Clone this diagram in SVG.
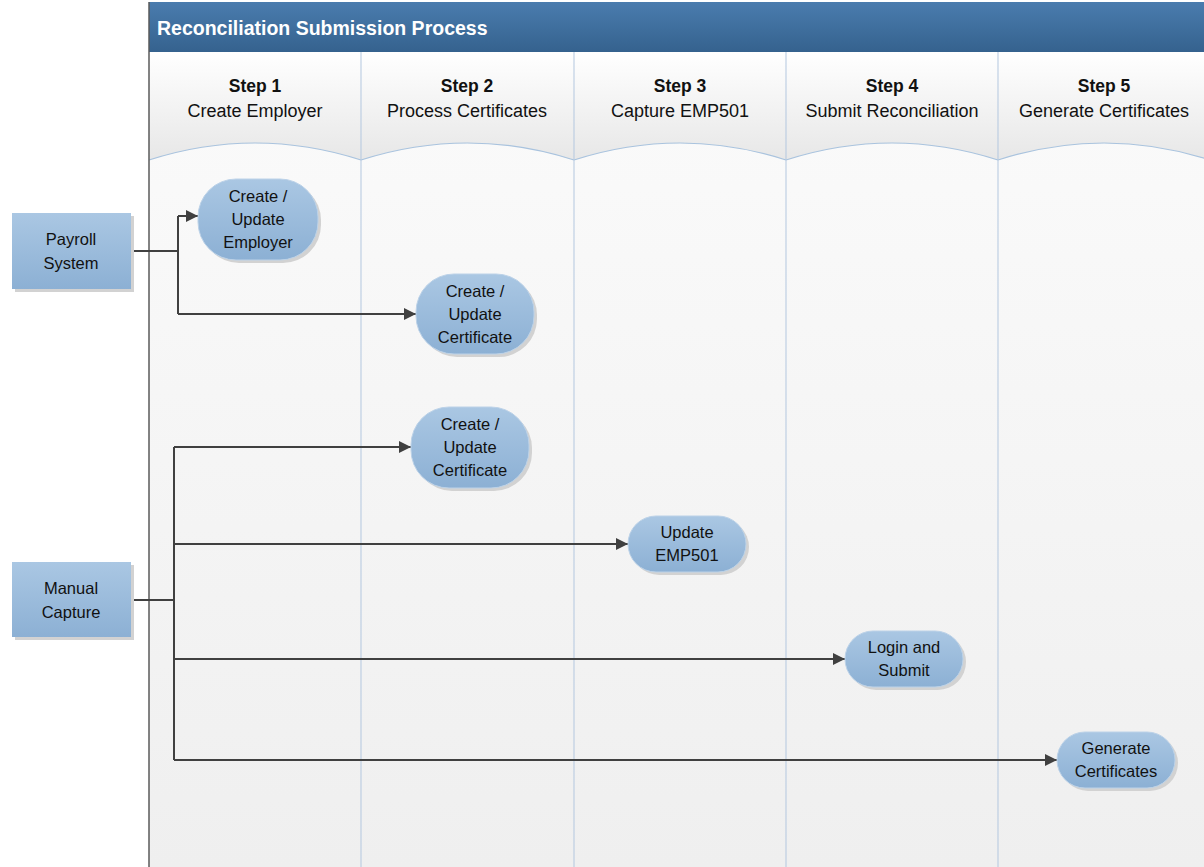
<svg xmlns="http://www.w3.org/2000/svg" width="1204" height="867" viewBox="0 0 1204 867">
<defs>
<linearGradient id="title" x1="0" y1="0" x2="0" y2="1"><stop offset="0" stop-color="#4a7cae"/><stop offset="1" stop-color="#35628e"/></linearGradient>
<linearGradient id="lane" x1="0" y1="0" x2="0" y2="1"><stop offset="0" stop-color="#fbfbfb"/><stop offset="1" stop-color="#efefef"/></linearGradient>
<linearGradient id="head" x1="0" y1="0" x2="0" y2="1"><stop offset="0" stop-color="#ffffff"/><stop offset="1" stop-color="#e7e7e7"/></linearGradient>
<linearGradient id="node" x1="0" y1="0" x2="0" y2="1"><stop offset="0" stop-color="#aac7e3"/><stop offset="1" stop-color="#8cb0d4"/></linearGradient>
<marker id="arr" viewBox="0 0 10 10" refX="10" refY="5" markerWidth="6" markerHeight="6" markerUnits="userSpaceOnUse" orient="auto"><path d="M0,0 L10,5 L0,10 Z" fill="#404040"/></marker>
<marker id="arrow" viewBox="0 0 12 12" refX="12" refY="6" markerWidth="12" markerHeight="12" markerUnits="userSpaceOnUse" orient="auto"><path d="M0,0 L12,6 L0,12 Z" fill="#404040"/></marker>
</defs>
<style>
.t{font-family:"Liberation Sans",Arial,sans-serif;fill:#111;text-anchor:middle}
.n{font-size:16.5px}
.sh{fill:#d2d2d2}
.nd{fill:url(#node);stroke:#bcd2e8;stroke-width:1}
.sep{stroke:#b3c7df;stroke-width:1}
.curve{fill:none;stroke:#a9c3de;stroke-width:1.2}
.c{fill:none;stroke:#404040;stroke-width:2}
</style>
<rect width="1204" height="867" fill="#ffffff"/>
<g id="pool">
<rect x="149" y="52" width="1055" height="815" fill="url(#lane)"/>
<rect x="149" y="2" width="1055" height="50" fill="url(#title)"/>
<text x="157" y="35" font-family="Liberation Sans,Arial,sans-serif" font-weight="bold" font-size="19.5" fill="#ffffff">Reconciliation Submission Process</text>
<path d="M149,52 H361 V160 Q255,126 149,160 Z" fill="url(#head)"/>
<path d="M361,52 H574 V160 Q467.5,126 361,160 Z" fill="url(#head)"/>
<path d="M574,52 H786 V160 Q680,126 574,160 Z" fill="url(#head)"/>
<path d="M786,52 H998 V160 Q892,126 786,160 Z" fill="url(#head)"/>
<path d="M998,52 H1210 V160 Q1104,126 998,160 Z" fill="url(#head)"/>
<path class="curve" d="M149,160 Q255,126 361,160 M361,160 Q467.5,126 574,160 M574,160 Q680,126 786,160 M786,160 Q892,126 998,160 M998,160 Q1104,126 1210,160"/>
<line class="sep" x1="361" y1="52" x2="361" y2="867"/>
<line class="sep" x1="574" y1="52" x2="574" y2="867"/>
<line class="sep" x1="786" y1="52" x2="786" y2="867"/>
<line class="sep" x1="998" y1="52" x2="998" y2="867"/>
<line x1="149" y1="2" x2="149" y2="867" stroke="#5a5a5a" stroke-width="1.5"/>
<g class="t" font-size="17.5">
<text x="255" y="92" font-weight="bold">Step 1</text><text x="255" y="117" font-size="18">Create Employer</text>
<text x="467" y="92" font-weight="bold">Step 2</text><text x="467" y="117" font-size="18">Process Certificates</text>
<text x="680" y="92" font-weight="bold">Step 3</text><text x="680" y="117" font-size="18">Capture EMP501</text>
<text x="892" y="92" font-weight="bold">Step 4</text><text x="892" y="117" font-size="18">Submit Reconciliation</text>
<text x="1104" y="92" font-weight="bold">Step 5</text><text x="1104" y="117" font-size="18">Generate Certificates</text>
</g>
</g>
<g id="connectors">
<path class="c" d="M131,251 H178 M178,314 V216" />
<path class="c" d="M178,216 H198" marker-end="url(#arrow)"/>
<path class="c" d="M178,314 H416" marker-end="url(#arrow)"/>
<path class="c" d="M131,600 H174 M174,447 V760"/>
<path class="c" d="M174,447 H411" marker-end="url(#arrow)"/>
<path class="c" d="M174,544 H628" marker-end="url(#arrow)"/>
<path class="c" d="M174,659 H845" marker-end="url(#arrow)"/>
<path class="c" d="M174,760 H1057" marker-end="url(#arrow)"/>
</g>
<g id="payroll">
<rect class="sh" x="15" y="216" width="119" height="76"/>
<rect x="12" y="213" width="119" height="76" fill="url(#node)"/>
<text class="t n" x="71" y="245">Payroll</text><text class="t n" x="71" y="269">System</text>
</g>
<g id="manual">
<rect class="sh" x="15" y="565" width="119" height="75"/>
<rect x="12" y="562" width="119" height="75" fill="url(#node)"/>
<text class="t n" x="71" y="594">Manual</text><text class="t n" x="71" y="618">Capture</text>
</g>
<g id="employer">
<rect class="sh" x="201" y="182" width="120" height="81" rx="38"/>
<rect class="nd" x="198" y="179" width="120" height="81" rx="38"/>
<text class="t n" x="258" y="202">Create /</text><text class="t n" x="258" y="225">Update</text><text class="t n" x="258" y="248">Employer</text>
</g>
<g id="cert1">
<rect class="sh" x="419" y="277" width="118" height="80" rx="38"/>
<rect class="nd" x="416" y="274" width="118" height="80" rx="38"/>
<text class="t n" x="475" y="297">Create /</text><text class="t n" x="475" y="320">Update</text><text class="t n" x="475" y="343">Certificate</text>
</g>
<g id="cert2">
<rect class="sh" x="414" y="410" width="118" height="81" rx="38"/>
<rect class="nd" x="411" y="407" width="118" height="81" rx="38"/>
<text class="t n" x="470" y="430">Create /</text><text class="t n" x="470" y="453">Update</text><text class="t n" x="470" y="476">Certificate</text>
</g>
<g id="emp501">
<rect class="sh" x="631" y="519" width="118" height="56" rx="28"/>
<rect class="nd" x="628" y="516" width="118" height="56" rx="28"/>
<text class="t n" x="687" y="538">Update</text><text class="t n" x="687" y="561">EMP501</text>
</g>
<g id="submit">
<rect class="sh" x="848" y="634" width="118" height="56" rx="28"/>
<rect class="nd" x="845" y="631" width="118" height="56" rx="28"/>
<text class="t n" x="904" y="653">Login and</text><text class="t n" x="904" y="676">Submit</text>
</g>
<g id="generate">
<rect class="sh" x="1060" y="735" width="118" height="56" rx="28"/>
<rect class="nd" x="1057" y="732" width="118" height="56" rx="28"/>
<text class="t n" x="1116" y="754">Generate</text><text class="t n" x="1116" y="777">Certificates</text>
</g>
</svg>
